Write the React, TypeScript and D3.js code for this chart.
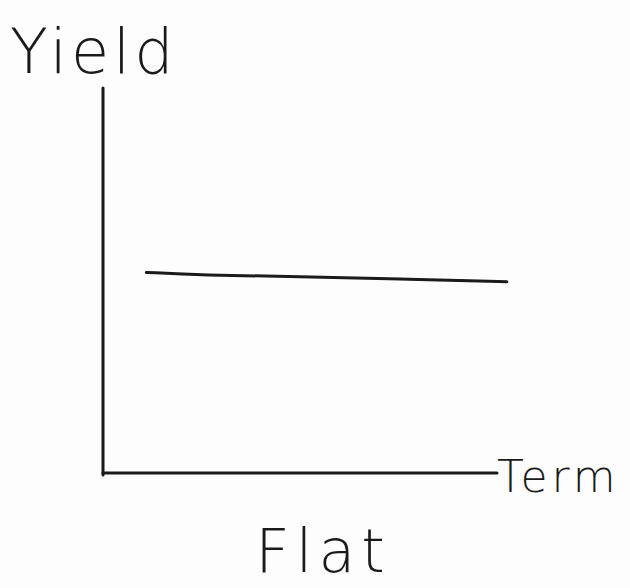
import * as d3 from 'd3';
import { useEffect, useRef } from 'react';

// flat yield curve
const terms = [1.1, 2.5, 5, 7.5, 10.25];
const yields = [5.21, 5.14, 5.1, 5.04, 4.97];

const axisLabels = ['Yield', 'Term'];
const caption = 'Flat';

const App: React.FC = () => {
    const ref = useRef<SVGSVGElement | null>(null);

    useEffect(() => {
        if (!ref.current) return;
        const width = 630;
        const height = 588;
        const svg = d3.select(ref.current);
        svg.selectAll('*').remove();

        svg.append('rect').attr('width', width).attr('height', height).attr('fill', '#fdfdfd');

        const x = d3.scaleLinear().domain([0, 10]).range([103, 497]);
        const y = d3.scaleLinear().domain([0, 10]).range([473, 88]);

        const ink = '#1a1a1a';

        // axes as bare strokes
        svg.append('line')
            .attr('x1', x(0)).attr('x2', x(0))
            .attr('y1', y(10)).attr('y2', y(0) + 2)
            .attr('stroke', ink).attr('stroke-width', 3).attr('stroke-linecap', 'round');

        svg.append('line')
            .attr('x1', x(0)).attr('x2', x(10))
            .attr('y1', y(0)).attr('y2', y(0))
            .attr('stroke', ink).attr('stroke-width', 3).attr('stroke-linecap', 'round');

        const data = terms.map((t, i) => ({ t, v: yields[i] }));
        const line = d3.line<{ t: number; v: number }>()
            .x(d => x(d.t))
            .y(d => y(d.v))
            .curve(d3.curveBasis);

        svg.append('path')
            .datum(data)
            .attr('d', line)
            .attr('fill', 'none')
            .attr('stroke', ink)
            .attr('stroke-width', 3)
            .attr('stroke-linecap', 'round');

        const font = '"DejaVu Sans", sans-serif';

        svg.append('text')
            .attr('x', 10).attr('y', 73)
            .attr('font-family', font).attr('font-size', 62).attr('font-weight', 200)
            .attr('letter-spacing', 4)
            .attr('fill', ink)
            .text(axisLabels[0]);

        svg.append('text')
            .attr('x', 497).attr('y', 492)
            .attr('font-family', font).attr('font-size', 44).attr('font-weight', 200)
            .attr('letter-spacing', 4)
            .attr('fill', ink)
            .text(axisLabels[1]);

        svg.append('text')
            .attr('x', 323).attr('y', 572)
            .attr('text-anchor', 'middle')
            .attr('font-family', font).attr('font-size', 60).attr('font-weight', 200)
            .attr('letter-spacing', 6)
            .attr('fill', ink)
            .text(caption);
    }, []);

    return (
        <svg ref={ref} width={630} height={588} style={{ position: 'absolute', left: 0, top: 0 }} />
    );
};

export default App;
